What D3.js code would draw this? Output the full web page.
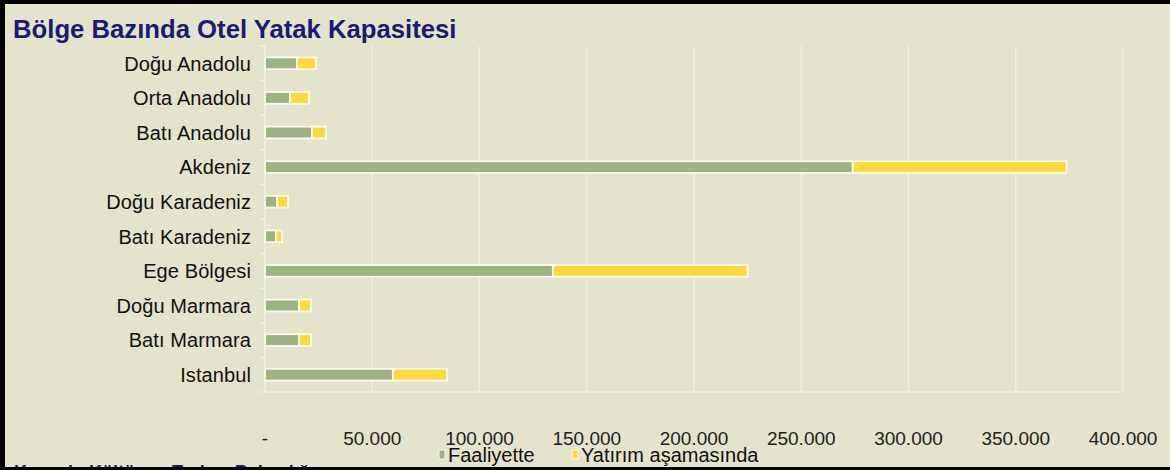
<!doctype html>
<html lang="tr">
<head>
<meta charset="utf-8">
<title>Bölge Bazında Otel Yatak Kapasitesi</title>
<script src="https://cdn.jsdelivr.net/npm/d3@7"></script>
<style>
html, body { margin: 0; padding: 0; background: #e4e3cb; }
svg { display: block; font-family: "Liberation Sans", Arial, sans-serif; }
.cat text { font-size: 20px; fill: #111; letter-spacing: 0.1px; }
.xt text { font-size: 19px; fill: #222; }
</style>
</head>
<body>
<svg id="chart"></svg>
<script>
var categories = ["Doğu Anadolu", "Orta Anadolu", "Batı Anadolu", "Akdeniz", "Doğu Karadeniz",
                  "Batı Karadeniz", "Ege Bölgesi", "Doğu Marmara", "Batı Marmara", "Istanbul"];
var faaliyette = [14900, 11600, 21900, 274000, 5600, 5100, 134200, 15800, 15800, 59600];
var yatirim    = [8900, 8900, 6500, 99700, 5100, 2800, 90800, 5600, 5600, 25200];
var seriesNames = ["Faaliyette", "Yatırım aşamasında"];
var seriesColors = ["#9db381", "#fdd93e"];
var xTicks = [0, 50000, 100000, 150000, 200000, 250000, 300000, 350000, 400000];

var W = 1170, H = 470;
var svg = d3.select("#chart").attr("width", W).attr("height", H);

svg.append("rect").attr("width", W).attr("height", H).attr("fill", "#e4e3cb");

var rows = categories.map(function(c, i) {
  return { cat: c, Faaliyette: faaliyette[i], "Yatırım aşamasında": yatirim[i] };
});
var stacked = d3.stack().keys(seriesNames)(rows);

var x = d3.scaleLinear().domain([0, 400000]).range([265, 1123]);
var y = d3.scaleBand().domain(categories).range([46, 392]).paddingInner(0.66).paddingOuter(0.33);

var loc = d3.formatLocale({ decimal: ",", thousands: ".", grouping: [3], currency: ["", ""] });
var fmt = loc.format(",.0f");

// grid
svg.append("g").selectAll("line").data(xTicks.slice(1)).enter().append("line")
  .attr("x1", function(d) { return x(d); }).attr("x2", function(d) { return x(d); })
  .attr("y1", 46).attr("y2", 392)
  .attr("stroke", "#f1f0e2").attr("stroke-width", 1.5);

// bottom line + left axis line
svg.append("line").attr("x1", 265).attr("x2", 1123).attr("y1", 392).attr("y2", 392)
  .attr("stroke", "#f1f0e2").attr("stroke-width", 1.5);
svg.append("line").attr("x1", 265).attr("x2", 265).attr("y1", 46).attr("y2", 392)
  .attr("stroke", "#f1f0e2").attr("stroke-width", 1.5);

// category separators (small ticks left of the axis)
var step = y.step();
svg.append("g").selectAll("line").data(d3.range(categories.length + 1)).enter().append("line")
  .attr("x1", 260).attr("x2", 265)
  .attr("y1", function(i) { return 46 + i * step; }).attr("y2", function(i) { return 46 + i * step; })
  .attr("stroke", "#f1f0e2").attr("stroke-width", 1.5);

// bars
svg.append("g").selectAll("g").data(stacked).enter().append("g")
  .attr("fill", function(d, i) { return seriesColors[i]; })
  .selectAll("rect").data(function(d) { return d; }).enter().append("rect")
  .attr("x", function(d) { return x(d[0]); })
  .attr("y", function(d) { return y(d.data.cat); })
  .attr("width", function(d) { return x(d[1]) - x(d[0]); })
  .attr("height", y.bandwidth())
  .attr("stroke", "#fbfbf2").attr("stroke-width", 1.8);

// category labels
svg.append("g").attr("class", "cat").selectAll("text").data(categories).enter().append("text")
  .attr("x", 251)
  .attr("y", function(d) { return y(d) + y.bandwidth() / 2; })
  .attr("dy", "0.36em")
  .attr("text-anchor", "end")
  .text(function(d) { return d; });

// x tick labels
svg.append("g").attr("class", "xt").selectAll("text").data(xTicks).enter().append("text")
  .attr("x", function(d) { return x(d); })
  .attr("y", 445)
  .attr("text-anchor", "middle")
  .text(function(d) { return d === 0 ? "-" : fmt(d); });

// legend
var legX = [439, 572];
var leg = svg.append("g").selectAll("g").data(seriesNames).enter().append("g")
  .attr("transform", function(d, i) { return "translate(" + legX[i] + ",0)"; });
leg.append("rect").attr("x", 0).attr("y", 450).attr("width", 6).attr("height", 9)
  .attr("fill", function(d, i) { return seriesColors[i]; })
  .attr("stroke", "#fbfbf2").attr("stroke-width", 1);
leg.append("text").attr("x", 9).attr("y", 462)
  .attr("font-size", "20px").attr("fill", "#111")
  .text(function(d) { return d; });

// title
svg.append("text").attr("x", 13).attr("y", 38)
  .attr("font-size", "25.7px").attr("font-weight", "bold").attr("fill", "#1c1a72")
  .text("Bölge Bazında Otel Yatak Kapasitesi");

// source (cut off at the bottom, as in the original)
svg.append("text").attr("x", 14).attr("y", 478)
  .attr("font-size", "18px").attr("font-weight", "bold").attr("fill", "#1c1a72")
  .text("Kaynak: Kültür ve Turizm Bakanlığı");

// black frame
svg.append("rect").attr("x", 0).attr("y", 0).attr("width", W).attr("height", 4).attr("fill", "#000");
svg.append("rect").attr("x", 0).attr("y", 0).attr("width", 5).attr("height", H).attr("fill", "#000");
svg.append("rect").attr("x", 0).attr("y", 467).attr("width", W).attr("height", 3).attr("fill", "#000");
</script>
</body>
</html>
